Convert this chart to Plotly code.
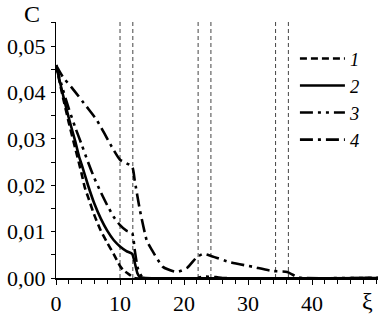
import plotly.graph_objects as go

# ---- data ----
xi1 = [0, 1, 2, 3, 4, 4.5, 5, 6, 7, 8, 9, 10, 10.5, 11.6, 12.2, 50.3]
c1 = [0.0459, 0.0395, 0.0335, 0.0280, 0.0225, 0.0195, 0.0175, 0.0135, 0.0102, 0.0076, 0.0052, 0.0026, 0.0017, 0.0006, 0.0, 0.0]

xi2 = [0, 1, 2, 3, 3.6, 4, 5, 6, 7, 8, 9, 10, 11, 11.9, 12.2, 12.7, 13.1, 14, 50.3]
c2 = [0.0459, 0.0400, 0.0345, 0.0295, 0.0262, 0.0245, 0.0200, 0.0160, 0.0128, 0.0102, 0.0082, 0.0068, 0.0058, 0.0052, 0.0039, 0.0011, 0.0002, 0.0, 0.0]

xi3 = [0, 1, 2, 3, 4, 5, 6, 7, 8, 9, 10, 11, 11.9, 12.3, 12.8, 13.6, 22, 23, 25, 26, 50.3]
c3 = [0.0459, 0.0410, 0.0365, 0.0325, 0.0288, 0.0250, 0.0215, 0.0185, 0.0157, 0.0132, 0.0114, 0.0102, 0.0097, 0.0060, 0.0020, 0.0, 0.0, 0.0003, 0.0002, 0.0, 0.0]

xi4 = [0, 1.1, 2.5, 4.8, 6.4, 8.75, 10, 11.9, 12.3, 13.1, 14.2, 15, 16.7, 18.9, 20.5, 22.0, 23.0, 24.1, 27.2, 30.8, 33.9, 36.1, 37.7, 38.5, 50.3]
c4 = [0.0459, 0.0433, 0.0410, 0.0369, 0.0340, 0.0282, 0.0255, 0.0240, 0.0210, 0.0147, 0.0080, 0.0060, 0.0024, 0.0013, 0.0022, 0.0045, 0.0052, 0.0048, 0.0034, 0.0024, 0.0015, 0.0013, 0.0002, 0.0, 0.0]

boundaries = [10, 12, 22.2, 24.2, 34.3, 36.3]

x_ticks = [0, 10, 20, 30, 40]
y_ticks = [0.0, 0.01, 0.02, 0.03, 0.04, 0.05]
y_labels = ["0,00", "0,01", "0,02", "0,03", "0,04", "0,05"]
names = ["<i>1</i>", "<i>2</i>", "<i>3</i>", "<i>4</i>"]

FONT = "Liberation Serif, Times New Roman, serif"

fig = go.Figure()

dashes = ["7px,4px", "solid", "13px,5px,3px,5px,3px,5px", "13px,5px,3px,5px"]
series = [(xi1, c1), (xi2, c2), (xi3, c3), (xi4, c4)]
for (xs, ys), dsh, nm in zip(series, dashes, names):
    fig.add_trace(go.Scatter(x=xs, y=ys, mode="lines", name=nm,
                             line=dict(color="black", width=2.6, dash=dsh, shape="spline", smoothing=0.5)))

for b in boundaries:
    fig.add_shape(type="line", x0=b, x1=b, y0=0, y1=1, xref="x", yref="paper",
                  line=dict(color="#444", width=1, dash="4px,3px"), layer="below")

fig.update_layout(
    width=378, height=315,
    margin=dict(l=56, r=0, t=22, b=37),
    plot_bgcolor="white", paper_bgcolor="white",
    font=dict(family=FONT, size=22, color="black"),
    showlegend=True,
    legend=dict(x=0.742, y=0.93, xanchor="left", yanchor="top",
                bgcolor="rgba(0,0,0,0)", font=dict(family=FONT, size=18.5),
                itemwidth=45, tracegroupgap=0),
    xaxis=dict(range=[0, 50.3], tickvals=x_ticks, ticks="outside", ticklen=5,
               tickcolor="black", showline=True, linecolor="black", linewidth=1.5,
               showgrid=False, zeroline=False, automargin=False, ticklabelstandoff=0,
               minor=dict(dtick=2, tick0=0, ticks="outside", ticklen=4, tickcolor="black", showgrid=False)),
    yaxis=dict(range=[0, 0.0552], tickvals=y_ticks, ticktext=y_labels, ticks="outside",
               ticklen=4, tickcolor="black", showline=True, linecolor="black", linewidth=1,
               showgrid=False, zeroline=False, automargin=False, ticklabelstandoff=1,
               minor=dict(dtick=0.005, tick0=0, ticks="outside", ticklen=4, tickcolor="black", showgrid=False)),
)

fig.add_annotation(text="C", xref="paper", yref="paper", x=-0.075, y=1.03,
                   xanchor="center", yanchor="middle", showarrow=False,
                   font=dict(family=FONT, size=24, color="black"))
fig.add_annotation(text="ξ", xref="paper", yref="paper", x=0.966, y=-0.09,
                   xanchor="center", yanchor="middle", showarrow=False,
                   font=dict(family=FONT, size=24, color="black"))

fig.write_html("out.html", config={"displayModeBar": False},
               post_script="document.body.style.margin='0';document.body.style.overflow='hidden';")
